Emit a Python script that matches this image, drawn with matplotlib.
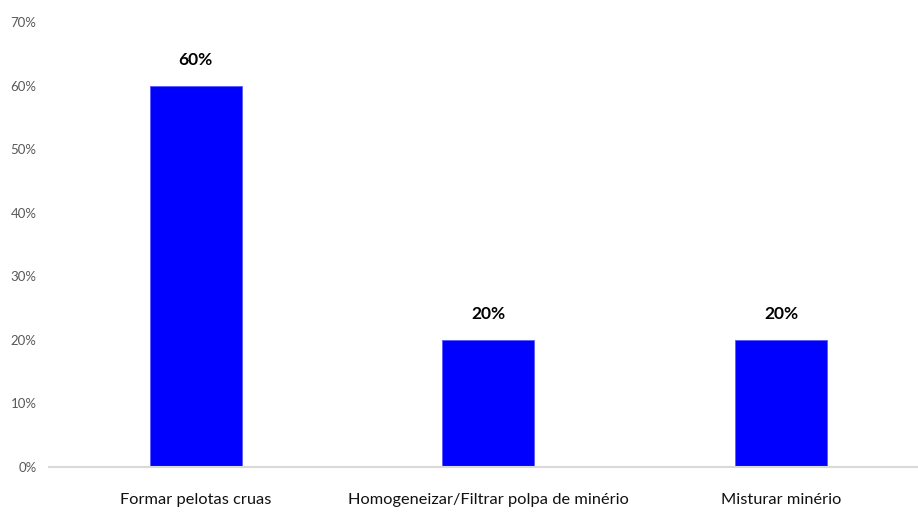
import matplotlib

matplotlib.use("Agg")
import matplotlib.pyplot as plt
from matplotlib.ticker import FuncFormatter

plt.rcParams["font.family"] = ["Lato", "DejaVu Sans"]

categories = ["Formar pelotas cruas", "Homogeneizar/Filtrar polpa de minério", "Misturar minério"]
shares = [60, 20, 20]
y_ticks = [0, 10, 20, 30, 40, 50, 60, 70]

fig = plt.figure(figsize=(9.18, 5.17), dpi=100)
ax = fig.add_axes([0.0534, 0.0967, 0.9466, 0.8607])

x = range(len(categories))
bars = ax.bar(x, shares, width=0.314, color="#0000FF", edgecolor="#5a5aff", linewidth=0.6)

for b, v in zip(bars, shares):
    ax.annotate(f"{v}%", (b.get_x() + b.get_width() / 2, v), xytext=(0, 13),
                textcoords="offset points", ha="center", va="bottom",
                fontsize=12.5, fontweight="bold", color="black")

ax.set_xlim(-0.5, 2.466)
ax.set_ylim(0, 70)
ax.set_yticks(y_ticks)
ax.yaxis.set_major_formatter(FuncFormatter(lambda v, _: f"{v:.0f}%"))
ax.set_xticks(list(x))
ax.set_xticklabels(categories, fontsize=11.8, color="#111111")

for s in ["top", "right", "left"]:
    ax.spines[s].set_visible(False)
ax.spines["bottom"].set_color("#d9d9d9")
ax.spines["bottom"].set_linewidth(1.5)
ax.tick_params(axis="y", length=0, labelsize=9.5, labelcolor="#595959", pad=9)
ax.tick_params(axis="x", length=0, pad=19)

fig.savefig("out.png", dpi=100)
